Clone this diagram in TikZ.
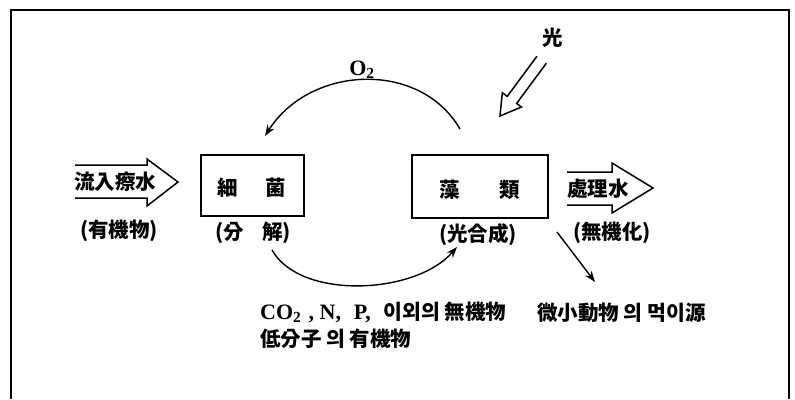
\documentclass[tikz,border=0pt]{standalone}
\usepackage{fontspec}
\setmainfont{Liberation Serif}
\newfontfamily\kr{Noto Sans CJK KR}
\usetikzlibrary{arrows.meta}
\begin{document}
\begin{tikzpicture}[x=1pt,y=-1pt,
  txt/.style={inner sep=0pt,font=\kr\bfseries\fontsize{20.5}{23}\selectfont},
  lat/.style={inner sep=0pt,font=\bfseries\fontsize{22}{24}\selectfont},
  frame/.style={line width=2.2pt},
  procbox/.style={draw,line width=1.6pt,minimum width=103pt,minimum height=61pt,inner sep=0pt},
  hollow/.style={line width=1.5pt,line join=miter},
  flow/.style={line width=1.4pt,-{Stealth[length=11pt,width=8pt]}}]
\useasboundingbox (0,0) rectangle (795,399);
% outer frame (bottom edge lies below the picture)
\draw[frame] (11,399) -- (11,10) -- (789,10) -- (789,399);
% boxes
\node[procbox] (bac) at (252.5,185.5) {};
\node[procbox,minimum width=136pt,minimum height=63pt] (alg) at (480,186.5) {};
\node[txt] (bac1) at (228,188) {細};
\node[txt] (bac2) at (276,188) {菌};
\node[txt] (alg1) at (450,190) {藻};
\node[txt] (alg2) at (510,190) {類};
\node[txt] (bacsub) at (253,233) {(分\hspace{18pt}解)};
\node[txt] (algsub) at (478,235) {(光合成)};
% inflow arrow
\draw[hollow] (75,165) -- (147,165) -- (147,159) -- (178,182) -- (147,206) -- (147,198) -- (75,198);
\node[txt] (inflow) at (115,182) {流入瘵水};
\node[txt] (inflowsub) at (119,231) {(有機物)};
% outflow arrow
\draw[hollow] (567,172) -- (612,172) -- (612,163) -- (653,188) -- (612,213) -- (612,205) -- (567,205);
\node[txt] (outflow) at (598,189) {處理水};
\node[txt] (outflowsub) at (612,233) {(無機化)};
% light arrow
\node[txt] (light) at (553,38) {光};
\draw[hollow] (546.4,63.2) -- (516.6,103.4) -- (521.5,107.0) -- (500,116) -- (502.3,92.7) -- (507.2,96.4) -- (537.0,56.2);
% O2 arc
\coordinate (o2s) at (460,129);
\coordinate (o2e) at (265,136);
\draw[flow] (o2s) .. controls (420,60) and (310,65) .. (o2e);
\node[lat] (o2) at (362,70) {O\textsubscript{2}};
% nutrient arc
\coordinate (ns) at (272,250);
\coordinate (ne) at (457,247);
\draw[flow] (ns) .. controls (300,300) and (415,295) .. (ne);
\node[anchor=west,inner sep=0pt] (nut1) at (260,312) {\bfseries\fontsize{22}{24}\selectfont CO\textsubscript{2}\,\,, N,\,\, P,\,\, {\kr\fontsize{20.5}{23}\selectfont 이외의 無機物}};
\node[txt,anchor=west] (nut2) at (260,339) {低分子 의 有機物};
% zooplankton arrow
\coordinate (zs) at (557,232);
\coordinate (ze) at (595,282);
\draw[flow] (zs) -- (ze);
\node[txt,anchor=west] (zoo) at (537,313) {微小動物 의 먹이源};
\end{tikzpicture}
\end{document}
